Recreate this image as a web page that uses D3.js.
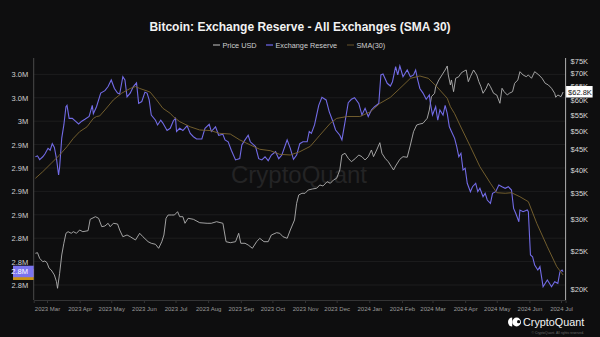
<!DOCTYPE html>
<html>
<head>
<meta charset="utf-8">
<script src="https://cdn.jsdelivr.net/npm/d3@7"></script>
<style>
    body { margin: 0; background: #0e0e0f; }
    svg { display: block; font-family: "Liberation Sans", Arial, sans-serif; }
</style>
</head>
<body>
<div id="container"><svg></svg></div>
<script>
// exchange reserve, millions of BTC
let reserve = [["2023-02-18",2.962],["2023-02-20",2.963],["2023-02-22",2.959],["2023-02-25",2.962],["2023-02-27",2.965],["2023-03-02",2.971],["2023-03-04",2.969],["2023-03-06",2.976],["2023-03-08",2.972],["2023-03-10",2.960],["2023-03-12",2.9425],["2023-03-13",2.951],["2023-03-15",2.982],["2023-03-17",2.996],["2023-03-19",3.0155],["2023-03-20",3.017],["2023-03-22",3.003],["2023-03-25",3.003],["2023-03-28",3.000],["2023-03-31",2.997],["2023-04-03",3.000],["2023-04-06",3.002],["2023-04-10",3.005],["2023-04-13",3.017],["2023-04-14",3.008],["2023-04-17",3.0155],["2023-04-21",3.030],["2023-04-25",3.0326],["2023-04-28",3.037],["2023-05-01",3.044],["2023-05-04",3.035],["2023-05-07",3.030],["2023-05-09",3.029],["2023-05-12",3.0475],["2023-05-14",3.044],["2023-05-16",3.026],["2023-05-19",3.030],["2023-05-22",3.037],["2023-05-25",3.041],["2023-05-27",3.019],["2023-05-30",3.021],["2023-06-02",3.031],["2023-06-04",3.030],["2023-06-06",3.0227],["2023-06-08",3.0066],["2023-06-12",3.001],["2023-06-14",2.996],["2023-06-17",3.001],["2023-06-19",2.998],["2023-06-23",2.990],["2023-06-26",2.9924],["2023-06-29",3.0005],["2023-07-01",3.003],["2023-07-02",2.989],["2023-07-05",2.9924],["2023-07-08",2.990],["2023-07-12",2.995],["2023-07-15",2.987],["2023-07-18",2.9834],["2023-07-21",2.981],["2023-07-26",2.981],["2023-07-29",2.9924],["2023-08-02",2.9967],["2023-08-04",2.989],["2023-08-08",2.994],["2023-08-11",2.985],["2023-08-15",2.986],["2023-08-17",2.980],["2023-08-20",2.978],["2023-08-23",2.969],["2023-08-27",2.9586],["2023-08-31",2.960],["2023-09-02",2.9746],["2023-09-05",2.980],["2023-09-08",2.985],["2023-09-10",2.978],["2023-09-15",2.9728],["2023-09-18",2.960],["2023-09-21",2.9586],["2023-09-24",2.962],["2023-09-27",2.9578],["2023-09-30",2.9639],["2023-10-04",2.9674],["2023-10-07",2.960],["2023-10-10",2.9639],["2023-10-15",2.980],["2023-10-18",2.971],["2023-10-21",2.9593],["2023-10-24",2.9639],["2023-10-27",2.976],["2023-10-30",2.978],["2023-11-03",2.978],["2023-11-05",2.989],["2023-11-07",2.987],["2023-11-10",2.996],["2023-11-12",3.0066],["2023-11-14",3.017],["2023-11-17",3.0255],["2023-11-21",3.0227],["2023-11-24",3.010],["2023-11-27",3.001],["2023-11-30",2.9906],["2023-12-04",2.985],["2023-12-06",2.980],["2023-12-09",2.9995],["2023-12-12",3.0198],["2023-12-15",3.0234],["2023-12-18",3.0251],["2023-12-22",3.019],["2023-12-25",3.0066],["2023-12-28",3.0138],["2023-12-31",3.005],["2024-01-03",3.012],["2024-01-06",3.0155],["2024-01-10",3.019],["2024-01-12",3.0494],["2024-01-14",3.0504],["2024-01-18",3.0405],["2024-01-21",3.0376],["2024-01-23",3.0422],["2024-01-26",3.0582],["2024-01-28",3.0494],["2024-01-30",3.059],["2024-02-02",3.0475],["2024-02-06",3.0547],["2024-02-09",3.0475],["2024-02-12",3.0494],["2024-02-14",3.0547],["2024-02-16",3.044],["2024-02-18",3.035],["2024-02-21",3.030],["2024-02-24",3.0234],["2024-02-27",3.028],["2024-02-28",3.019],["2024-03-01",3.0066],["2024-03-04",3.0155],["2024-03-06",3.001],["2024-03-08",3.012],["2024-03-11",3.0066],["2024-03-13",3.017],["2024-03-15",3.008],["2024-03-17",2.994],["2024-03-19",2.989],["2024-03-22",2.9817],["2024-03-24",2.9728],["2024-03-26",2.962],["2024-03-28",2.9657],["2024-03-30",2.9479],["2024-04-01",2.9497],["2024-04-03",2.9337],["2024-04-06",2.9247],["2024-04-08",2.930],["2024-04-11",2.9337],["2024-04-13",2.9247],["2024-04-15",2.9283],["2024-04-18",2.9193],["2024-04-20",2.923],["2024-04-22",2.9158],["2024-04-25",2.9123],["2024-04-27",2.923],["2024-04-30",2.9247],["2024-05-03",2.9318],["2024-05-06",2.930],["2024-05-09",2.9283],["2024-05-12",2.930],["2024-05-15",2.9265],["2024-05-17",2.9069],["2024-05-19",2.9016],["2024-05-22",2.8926],["2024-05-23",2.9051],["2024-05-26",2.9033],["2024-05-30",2.9051],["2024-05-31",2.9033],["2024-06-02",2.8571],["2024-06-04",2.8552],["2024-06-06",2.8464],["2024-06-09",2.841],["2024-06-11",2.8446],["2024-06-14",2.8232],["2024-06-18",2.8303],["2024-06-20",2.8268],["2024-06-22",2.8232],["2024-06-25",2.8285],["2024-06-28",2.8268],["2024-06-30",2.8392],["2024-07-02",2.841],["2024-07-03",2.8392]];

// SMA(30) of the reserve, millions of BTC
let sma30 = [["2023-02-18",2.939],["2023-02-25",2.9461],["2023-03-05",2.955],["2023-03-13",2.9639],["2023-03-20",2.9728],["2023-03-26",2.9817],["2023-04-01",2.9888],["2023-04-08",2.994],["2023-04-14",3.003],["2023-04-17",3.005],["2023-04-20",3.0056],["2023-04-25",3.012],["2023-05-03",3.0227],["2023-05-11",3.030],["2023-05-19",3.035],["2023-05-24",3.037],["2023-05-28",3.035],["2023-06-04",3.0323],["2023-06-07",3.031],["2023-06-13",3.0227],["2023-06-19",3.0138],["2023-06-26",3.0084],["2023-06-29",3.0048],["2023-07-05",2.9995],["2023-07-15",2.994],["2023-07-24",2.9906],["2023-08-03",2.990],["2023-08-12",2.987],["2023-08-22",2.9863],["2023-08-31",2.980],["2023-09-10",2.9746],["2023-09-19",2.970],["2023-09-29",2.9685],["2023-10-08",2.9646],["2023-10-18",2.9639],["2023-10-27",2.9674],["2023-11-06",2.9732],["2023-11-15",2.985],["2023-11-25",2.9978],["2023-12-01",3.003],["2023-12-11",3.005],["2023-12-23",3.005],["2024-01-02",3.010],["2024-01-11",3.019],["2024-01-21",3.0255],["2024-01-30",3.035],["2024-02-09",3.0458],["2024-02-18",3.0483],["2024-02-26",3.0458],["2024-03-05",3.037],["2024-03-15",3.0245],["2024-03-18",3.0155],["2024-03-22",3.008],["2024-03-27",2.996],["2024-04-06",2.9728],["2024-04-15",2.9514],["2024-04-25",2.9337],["2024-05-01",2.9236],["2024-05-09",2.923],["2024-05-15",2.9236],["2024-05-23",2.9193],["2024-05-31",2.914],["2024-06-08",2.8909],["2024-06-18",2.8659],["2024-06-27",2.8446],["2024-07-03",2.8357]];

// BTC price, USD
let price = [["2023-02-18",24645],["2023-02-20",24730],["2023-02-22",23940],["2023-02-25",23472],["2023-02-27",23568],["2023-03-01",23336],["2023-03-03",22590],["2023-03-05",22370],["2023-03-08",21730],["2023-03-10",20902],["2023-03-11",20116],["2023-03-13",21946],["2023-03-15",24404],["2023-03-17",26116],["2023-03-19",27676],["2023-03-21",27934],["2023-03-24",27676],["2023-03-26",27934],["2023-03-29",27676],["2023-04-01",28212],["2023-04-04",27934],["2023-04-09",28096],["2023-04-11",30016],["2023-04-16",30472],["2023-04-19",30190],["2023-04-22",28756],["2023-04-25",28874],["2023-04-28",29328],["2023-04-30",28756],["2023-05-03",29328],["2023-05-07",29210],["2023-05-09",28212],["2023-05-12",27136],["2023-05-16",27404],["2023-05-19",27136],["2023-05-24",26622],["2023-05-28",27676],["2023-05-31",27136],["2023-06-05",26360],["2023-06-08",26116],["2023-06-12",25964],["2023-06-15",25370],["2023-06-18",26360],["2023-06-20",27404],["2023-06-22",30190],["2023-06-24",30776],["2023-06-27",30776],["2023-06-30",30776],["2023-07-03",31370],["2023-07-05",30472],["2023-07-08",30472],["2023-07-10",29328],["2023-07-13",30190],["2023-07-18",30016],["2023-07-24",29430],["2023-07-31",29328],["2023-08-04",29328],["2023-08-09",29602],["2023-08-15",29328],["2023-08-18",26360],["2023-08-22",26208],["2023-08-27",26360],["2023-08-30",27676],["2023-09-01",26116],["2023-09-05",26116],["2023-09-08",25860],["2023-09-12",25370],["2023-09-16",26360],["2023-09-19",26884],["2023-09-23",26360],["2023-09-27",26360],["2023-09-30",27404],["2023-10-05",27772],["2023-10-08",27676],["2023-10-11",27136],["2023-10-15",26884],["2023-10-18",28212],["2023-10-22",29896],["2023-10-24",32936],["2023-10-26",34562],["2023-10-29",34904],["2023-11-01",34904],["2023-11-04",35580],["2023-11-08",35786],["2023-11-12",35930],["2023-11-15",36626],["2023-11-18",36414],["2023-11-22",37334],["2023-11-25",36988],["2023-11-28",37704],["2023-12-01",38078],["2023-12-04",39954],["2023-12-06",43586],["2023-12-09",44018],["2023-12-12",42762],["2023-12-15",41924],["2023-12-19",42762],["2023-12-22",43586],["2023-12-25",43158],["2023-12-28",42340],["2023-12-31",43158],["2024-01-03",44868],["2024-01-05",43158],["2024-01-08",44868],["2024-01-11",46806],["2024-01-13",44018],["2024-01-16",42762],["2024-01-19",41924],["2024-01-22",40726],["2024-01-24",39954],["2024-01-26",40892],["2024-01-30",42514],["2024-02-02",43158],["2024-02-06",43010],["2024-02-09",46188],["2024-02-12",49894],["2024-02-15",51870],["2024-02-18",52170],["2024-02-21",52384],["2024-02-25",53926],["2024-02-27",56584],["2024-02-29",61126],["2024-03-03",62342],["2024-03-04",64776],["2024-03-07",67342],["2024-03-10",69324],["2024-03-13",71364],["2024-03-15",73038],["2024-03-16",69324],["2024-03-18",65416],["2024-03-19",67342],["2024-03-21",62926],["2024-03-23",68008],["2024-03-26",68644],["2024-03-28",70008],["2024-03-30",70662],["2024-04-02",71364],["2024-04-04",66680],["2024-04-06",68644],["2024-04-09",71364],["2024-04-12",69324],["2024-04-14",66680],["2024-04-16",64776],["2024-04-18",62342],["2024-04-21",64176],["2024-04-23",66062],["2024-04-25",64776],["2024-04-28",62342],["2024-05-01",61730],["2024-05-04",58828],["2024-05-06",64176],["2024-05-08",62926],["2024-05-11",61730],["2024-05-13",62342],["2024-05-16",62926],["2024-05-18",66062],["2024-05-21",67342],["2024-05-23",70662],["2024-05-26",69324],["2024-05-29",68644],["2024-05-31",69324],["2024-06-03",68008],["2024-06-06",70662],["2024-06-10",69324],["2024-06-13",68008],["2024-06-16",66062],["2024-06-19",65416],["2024-06-22",64176],["2024-06-25",62342],["2024-06-26",60912],["2024-06-28",61730],["2024-07-01",61126],["2024-07-03",62800]];

let monthTicks = ["2023-03-01","2023-04-01","2023-05-01","2023-06-01","2023-07-01","2023-08-01","2023-09-01","2023-10-01","2023-11-01","2023-12-01","2024-01-01","2024-02-01","2024-03-01","2024-04-01","2024-05-01","2024-06-01","2024-07-01"];
let leftTicks = [2.825, 2.85, 2.875, 2.9, 2.925, 2.95, 2.975, 3.0, 3.025, 3.05];
let leftLabels = ["2.8M", "2.8M", "2.8M", "2.9M", "2.9M", "2.9M", "2.9M", "3M", "3.0M", "3.0M"];
let rightTicks = [20000, 25000, 30000, 35000, 40000, 45000, 50000, 55000, 60000, 65000, 70000, 75000];
let rightLabels = ["$20K", "$25K", "$30K", "$35K", "$40K", "$45K", "$50K", "$55K", "$60K", "$65K", "$70K", "$75K"];

let legendItems = [
    {name: 'Price USD', color: '#8a8a8a'},
    {name: 'Exchange Reserve', color: '#5d57c4'},
    {name: 'SMA(30)', color: '#4a3d22'}
];

let width = 600, height = 337;
let plot = {left: 33.7, right: 565.6, top: 58, bottom: 300};
let colors = {price: '#b2b2b2', reserve: '#726be6', sma: '#7d6631', smaTag: '#c99214'};

function draw_main() {
    let parse = d3.utcParse('%Y-%m-%d');
    let svg = d3.select('#container').select('svg')
        .attr('width', width)
        .attr('height', height);

    svg.append('rect').attr('width', width).attr('height', height).attr('fill', '#0e0e0f');

    // x scale: month ticks pinned, then stretched to plot edges
    let x = d3.scaleUtc()
        .domain([parse('2023-03-01'), parse('2024-07-01')])
        .range([47, 561]);
    x.domain([x.invert(plot.left), x.invert(plot.right)]).range([plot.left, plot.right]);

    let yL = d3.scaleLinear().domain([2.825, 3.05]).range([285, 74.4]);
    let yR = d3.scaleLog().domain([20000, 70000]).range([289.3, 73.3]);

    // title + legend
    svg.append('text')
        .attr('x', 300).attr('y', 31)
        .attr('text-anchor', 'middle')
        .attr('font-size', 12).attr('font-weight', 'bold')
        .attr('fill', '#f2f2f2')
        .text('Bitcoin: Exchange Reserve - All Exchanges (SMA 30)');

    let lg = svg.append('g').attr('transform', 'translate(213, 47.5)');
    let offs = [0, 53, 134];
    legendItems.forEach((d, i) => {
        lg.append('line')
            .attr('x1', offs[i]).attr('x2', offs[i] + 7)
            .attr('y1', -2.5).attr('y2', -2.5)
            .attr('stroke', d.color).attr('stroke-width', 1.5);
        lg.append('text')
            .attr('x', offs[i] + 9.5).attr('y', 0)
            .attr('font-size', 7.3).attr('fill', '#cfcfcf')
            .text(d.name);
    });

    // gridlines
    svg.append('g')
        .selectAll('line')
        .data(leftTicks)
        .enter().append('line')
        .attr('x1', plot.left).attr('x2', plot.right)
        .attr('y1', d => yL(d)).attr('y2', d => yL(d))
        .attr('stroke', '#1d1d1e').attr('stroke-width', 1);

    // watermark
    svg.append('text')
        .attr('x', 299).attr('y', 183)
        .attr('text-anchor', 'middle')
        .attr('font-size', 24)
        .attr('fill', '#242425')
        .text('CryptoQuant');

    svg.append('clipPath').attr('id', 'clip')
        .append('rect')
        .attr('x', plot.left).attr('y', plot.top)
        .attr('width', plot.right - plot.left).attr('height', plot.bottom - plot.top);

    let lines = svg.append('g').attr('clip-path', 'url(#clip)');
    let lineR = d3.line().x(d => x(parse(d[0]))).y(d => yL(d[1]));
    let lineP = d3.line().x(d => x(parse(d[0]))).y(d => yR(d[1]));

    lines.append('path').datum(price)
        .attr('d', lineP).attr('fill', 'none')
        .attr('stroke', colors.price).attr('stroke-width', 0.9);
    lines.append('path').datum(reserve)
        .attr('d', lineR).attr('fill', 'none')
        .attr('stroke', colors.reserve).attr('stroke-width', 1.1);
    lines.append('path').datum(sma30)
        .attr('d', lineR).attr('fill', 'none')
        .attr('stroke', colors.sma).attr('stroke-width', 0.9);

    // x axis
    let axis_x = d3.axisBottom(x)
        .tickValues(monthTicks.map(parse))
        .tickFormat(d3.utcFormat('%Y %b'))
        .tickSize(3)
        .tickPadding(4);
    let gx = svg.append('g')
        .attr('transform', `translate(0, ${plot.bottom})`)
        .call(axis_x)
        .attr('font-family', null)
        .attr('font-size', 6);
    gx.select('.domain').attr('stroke', '#343435');
    gx.selectAll('.tick line').attr('stroke', '#343435');
    gx.selectAll('.tick text').attr('fill', '#9a9a9a');

    // left axis
    let gl = svg.append('g')
        .attr('transform', `translate(${plot.left}, 0)`)
        .call(d3.axisLeft(yL).tickValues(leftTicks).tickFormat((d, i) => leftLabels[i]).tickSize(0).tickPadding(5.5))
        .attr('font-family', null)
        .attr('font-size', 7.5);
    gl.select('.domain').remove();
    gl.selectAll('.tick text').attr('fill', '#d0d0d0');
    svg.append('line')
        .attr('x1', plot.left).attr('x2', plot.left)
        .attr('y1', plot.top).attr('y2', plot.bottom)
        .attr('stroke', '#4a4a4b');

    // right axis
    let gr = svg.append('g')
        .attr('transform', `translate(${plot.right}, 0)`)
        .call(d3.axisRight(yR).tickValues(rightTicks).tickFormat((d, i) => rightLabels[i]).tickSize(0).tickPadding(5))
        .attr('font-family', null)
        .attr('font-size', 7.5);
    gr.select('.domain').remove();
    gr.selectAll('.tick text').attr('fill', '#d8d8d8');
    svg.append('line')
        .attr('x1', plot.right).attr('x2', plot.right)
        .attr('y1', plot.top).attr('y2', plot.bottom)
        .attr('stroke', '#b0b0b0');

    // last value tags
    let lastR = reserve[reserve.length - 1][1];
    let lastS = sma30[sma30.length - 1][1];
    let lastP = price[price.length - 1][1];

    svg.append('rect')
        .attr('x', 13).attr('y', yL(lastS) - 6)
        .attr('width', plot.left - 13).attr('height', 11)
        .attr('fill', colors.smaTag);
    svg.append('rect')
        .attr('x', 13).attr('y', yL(lastR) - 6)
        .attr('width', plot.left - 13).attr('height', 11.5)
        .attr('fill', '#7b74ee');
    svg.append('text')
        .attr('x', 28).attr('y', yL(lastR) + 2.6)
        .attr('text-anchor', 'end')
        .attr('font-size', 7.5).attr('fill', '#ffffff')
        .text(d3.format('.1f')(Math.floor(lastR * 10) / 10) + 'M');

    svg.append('rect')
        .attr('x', plot.right + 0.5).attr('y', yR(lastP) - 6)
        .attr('width', 26.5).attr('height', 11.5)
        .attr('fill', '#ffffff');
    svg.append('text')
        .attr('x', plot.right + 2.5).attr('y', yR(lastP) + 2.6)
        .attr('font-size', 7.5).attr('fill', '#111111')
        .text('$' + d3.format('.1f')(lastP / 1000) + 'K');

    // logo
    let logo = svg.append('g').attr('transform', 'translate(509, 322)');
    logo.append('path')
        .attr('d', 'M3.2,-4.6 A4.2,4.6 0 0 0 3.2,4.6 Z')
        .attr('fill', '#ffffff');
    logo.append('circle').attr('cx', 7.6).attr('cy', 0).attr('r', 4.4).attr('fill', '#ffffff');
    logo.append('circle').attr('cx', 9.6).attr('cy', -0.3).attr('r', 1.6).attr('fill', '#0e0e0f');
    svg.append('text')
        .attr('x', 523).attr('y', 326)
        .attr('font-size', 10.8).attr('fill', '#f4f4f4')
        .text('CryptoQuant');
    svg.append('text')
        .attr('x', 584).attr('y', 333.5)
        .attr('text-anchor', 'end')
        .attr('font-size', 3.4).attr('fill', '#6a6a6a')
        .text('© CryptoQuant. All rights reserved.');
}

draw_main();
</script>
</body>
</html>
